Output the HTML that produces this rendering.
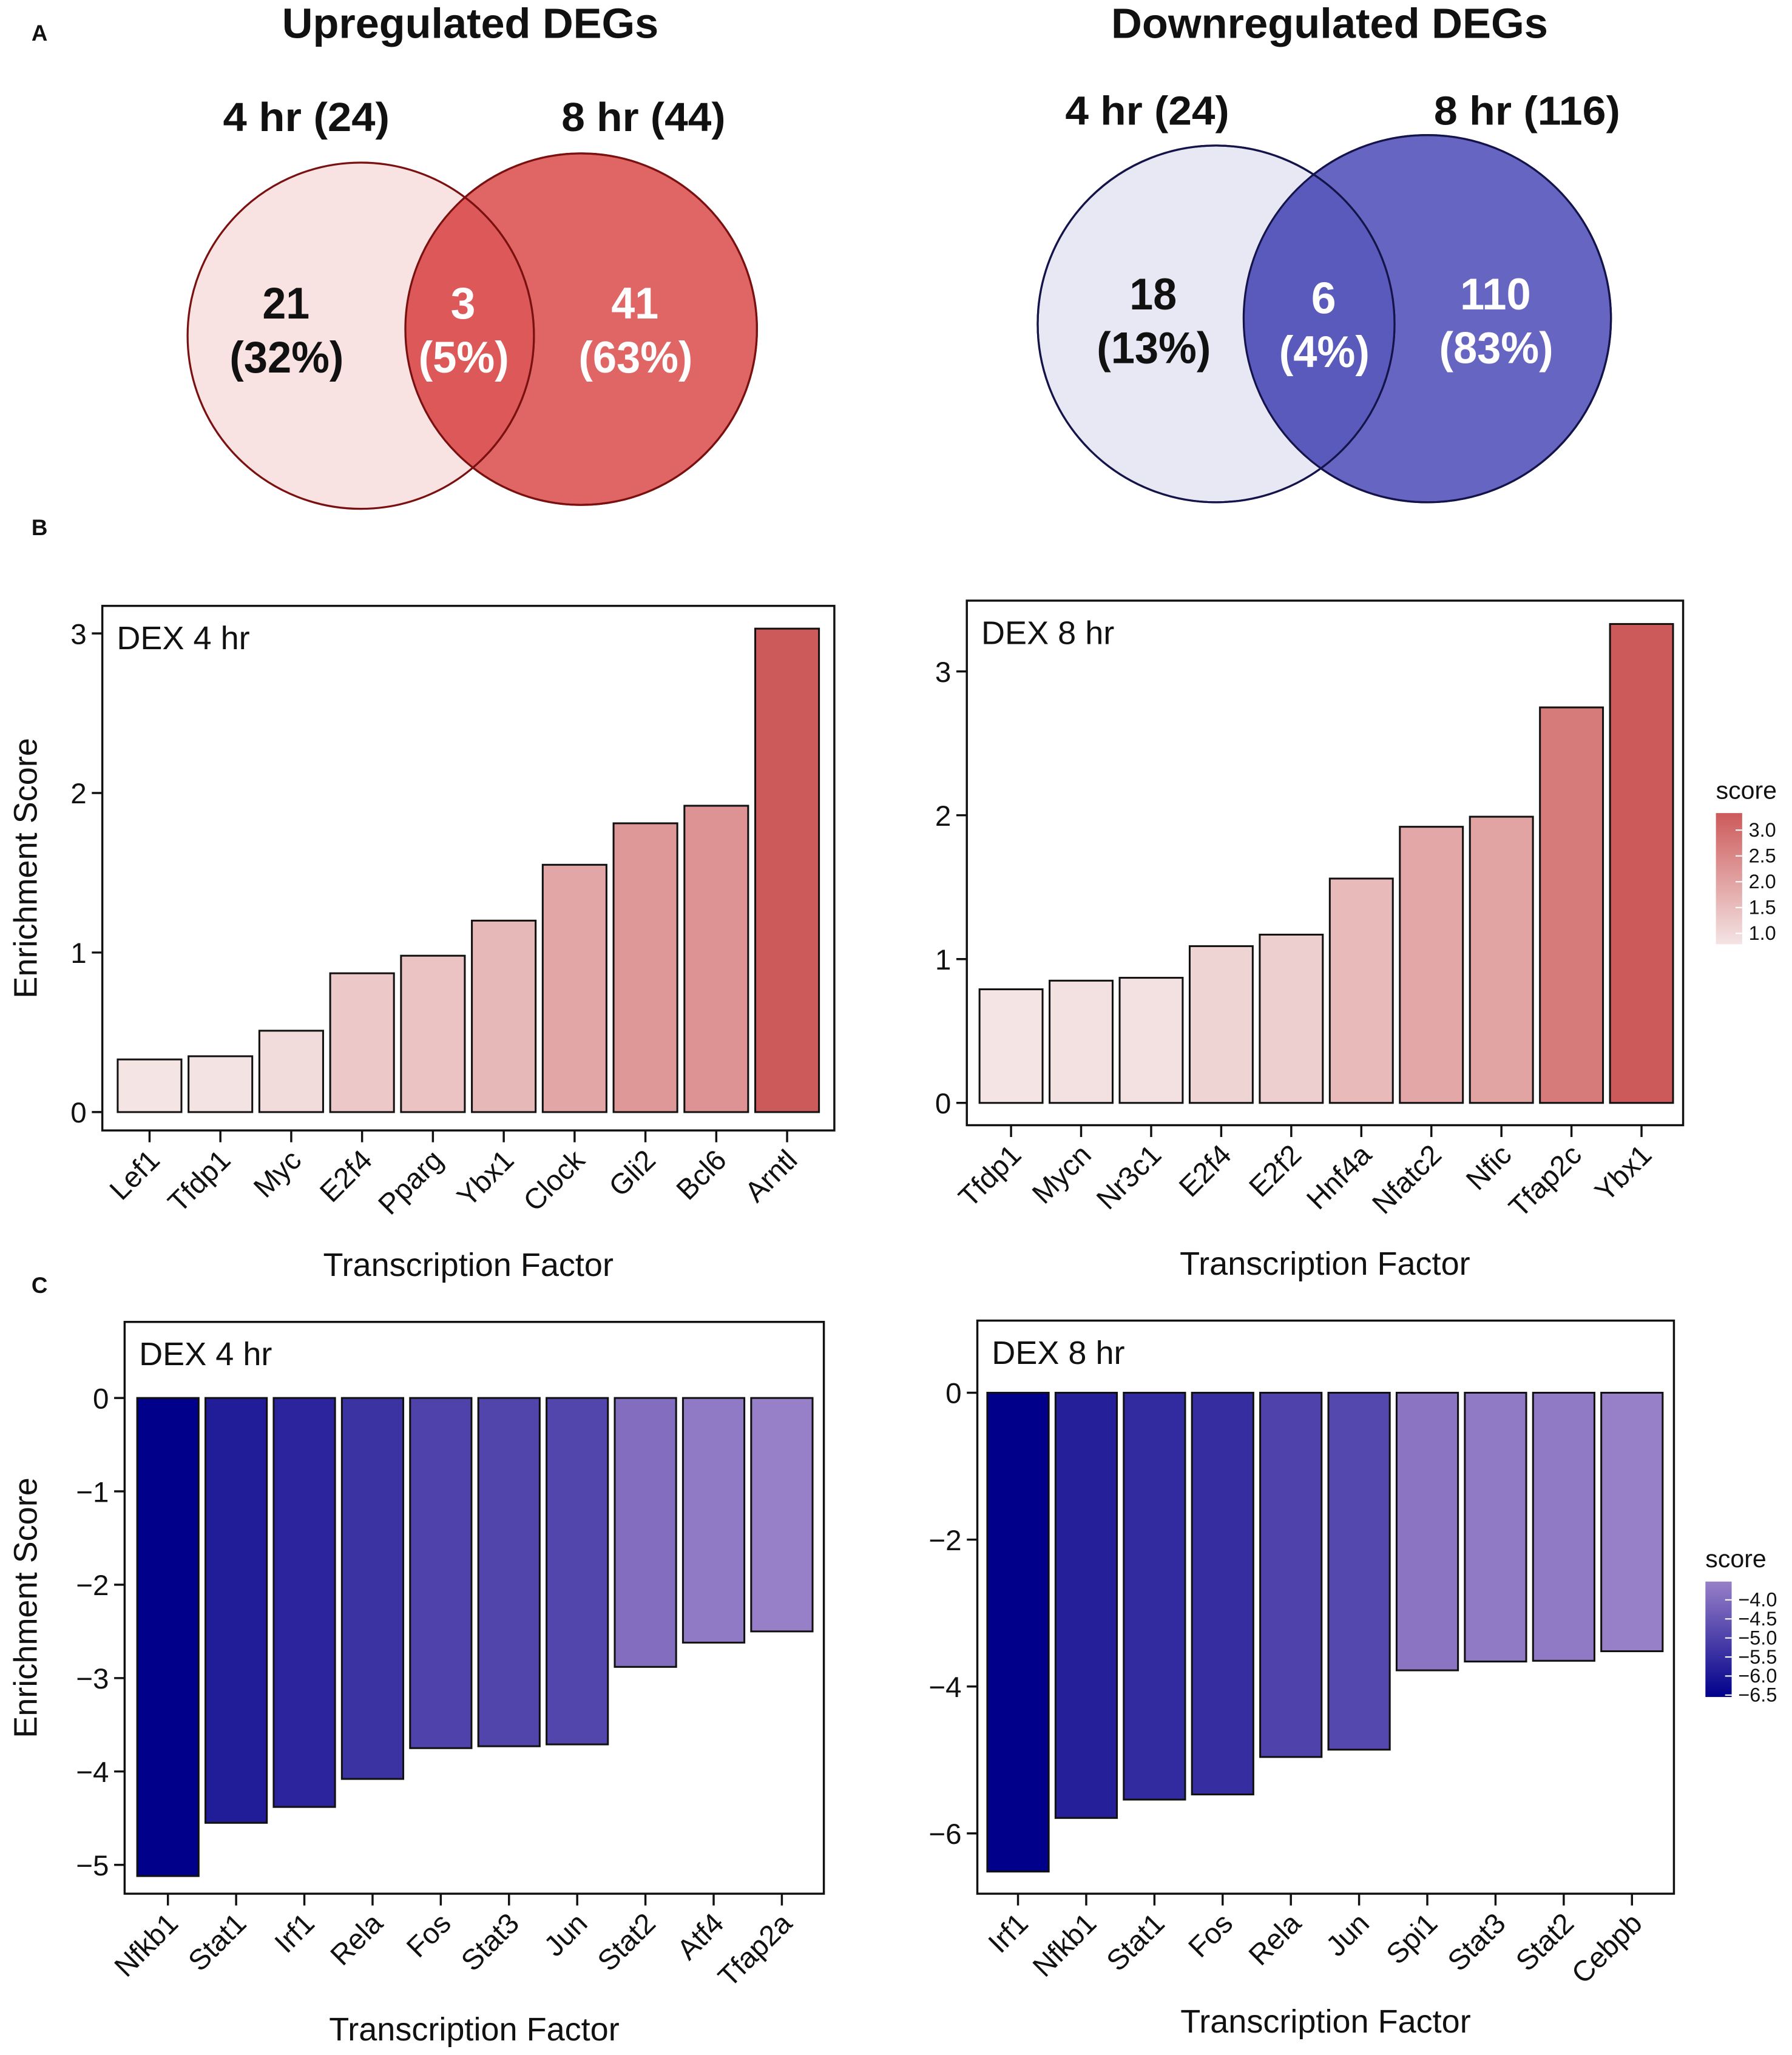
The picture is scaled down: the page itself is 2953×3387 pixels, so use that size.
<!DOCTYPE html>
<html><head><meta charset="utf-8"><style>
html,body{margin:0;padding:0;background:#fff}
svg{display:block}
text{font-family:"Liberation Sans",sans-serif;fill:#111}
.nar{font-family:"Liberation Sans Narrow","Liberation Sans",sans-serif;font-weight:bold}
</style></head><body>
<svg id="fig" width="2953" height="3387" viewBox="0 0 1366 1567" preserveAspectRatio="none" xmlns="http://www.w3.org/2000/svg">
<g>
<text x="24" y="31" font-size="17" font-weight="bold">A</text>
<text class="nar" x="215" y="29" font-size="32" textLength="287" lengthAdjust="spacingAndGlyphs">Upregulated DEGs</text>
<text class="nar" x="847" y="29" font-size="32" textLength="333" lengthAdjust="spacingAndGlyphs">Downregulated DEGs</text>
<text class="nar" x="170" y="100" font-size="31" textLength="127" lengthAdjust="spacingAndGlyphs">4 hr (24)</text>
<text class="nar" x="428" y="100" font-size="31" textLength="125" lengthAdjust="spacingAndGlyphs">8 hr (44)</text>
<circle cx="443" cy="251" r="134" fill="#e06666" stroke="#7a1010" stroke-width="1.5"/>
<circle cx="275" cy="256" r="132" fill="#f5d8d8" fill-opacity="0.75" stroke="#7a1010" stroke-width="1.5"/>
<clipPath id="cl1"><circle cx="443" cy="251" r="134"/></clipPath>
<circle cx="275" cy="256" r="132" fill="#dd5858" clip-path="url(#cl1)" stroke="#7a1010" stroke-width="1.5"/>
<circle cx="443" cy="251" r="134" fill="none" stroke="#7a1010" stroke-width="1.5"/>
<text class="nar" x="218" y="243" font-size="34" text-anchor="middle" textLength="36" lengthAdjust="spacingAndGlyphs">21</text>
<text class="nar" x="175" y="284" font-size="34" textLength="87" lengthAdjust="spacingAndGlyphs">(32%)</text>
<text class="nar" x="353" y="243" font-size="34" text-anchor="middle" style="fill:#fff">3</text>
<text class="nar" x="319" y="284" font-size="34" textLength="69" lengthAdjust="spacingAndGlyphs" style="fill:#fff">(5%)</text>
<text class="nar" x="484" y="243" font-size="34" text-anchor="middle" textLength="36" lengthAdjust="spacingAndGlyphs" style="fill:#fff">41</text>
<text class="nar" x="441" y="284" font-size="34" textLength="87" lengthAdjust="spacingAndGlyphs" style="fill:#fff">(63%)</text>
<text class="nar" x="812" y="95" font-size="31" textLength="125" lengthAdjust="spacingAndGlyphs">4 hr (24)</text>
<text class="nar" x="1093" y="95" font-size="31" textLength="142" lengthAdjust="spacingAndGlyphs">8 hr (116)</text>
<circle cx="1088" cy="243" r="140" fill="#6666c2" stroke="#14144a" stroke-width="1.5"/>
<circle cx="927" cy="247" r="136" fill="#e8e8f4" stroke="#14144a" stroke-width="1.5"/>
<clipPath id="cl2"><circle cx="1088" cy="243" r="140"/></clipPath>
<circle cx="927" cy="247" r="136" fill="#5a5abd" clip-path="url(#cl2)"/>
<circle cx="927" cy="247" r="136" fill="none" stroke="#14144a" stroke-width="1.5"/>
<circle cx="1088" cy="243" r="140" fill="none" stroke="#14144a" stroke-width="1.5"/>
<text class="nar" x="879" y="236" font-size="34" text-anchor="middle" textLength="36" lengthAdjust="spacingAndGlyphs">18</text>
<text class="nar" x="836" y="277" font-size="34" textLength="87" lengthAdjust="spacingAndGlyphs">(13%)</text>
<text class="nar" x="1009" y="239" font-size="34" text-anchor="middle" style="fill:#fff">6</text>
<text class="nar" x="975" y="280" font-size="34" textLength="69" lengthAdjust="spacingAndGlyphs" style="fill:#fff">(4%)</text>
<text class="nar" x="1140" y="236" font-size="34" text-anchor="middle" textLength="54" lengthAdjust="spacingAndGlyphs" style="fill:#fff">110</text>
<text class="nar" x="1097" y="277" font-size="34" textLength="87" lengthAdjust="spacingAndGlyphs" style="fill:#fff">(83%)</text>
</g>
<text x="24" y="408" font-size="17" font-weight="bold">B</text>
<text x="24" y="986" font-size="17" font-weight="bold">C</text>
<g id="charts"></g>
</svg>
<script>
const b4Cats=["Lef1","Tfdp1","Myc","E2f4","Pparg","Ybx1","Clock","Gli2","Bcl6","Arntl"];
const b4Vals=[0.33,0.35,0.51,0.87,0.98,1.2,1.55,1.81,1.92,3.03];
const b4Ticks=[0,1,2,3];
const b8Cats=["Tfdp1","Mycn","Nr3c1","E2f4","E2f2","Hnf4a","Nfatc2","Nfic","Tfap2c","Ybx1"];
const b8Vals=[0.79,0.85,0.87,1.09,1.17,1.56,1.92,1.99,2.75,3.33];
const b8Ticks=[0,1,2,3];
const c4Cats=["Nfkb1","Stat1","Irf1","Rela","Fos","Stat3","Jun","Stat2","Atf4","Tfap2a"];
const c4Vals=[-5.12,-4.55,-4.38,-4.08,-3.75,-3.73,-3.71,-2.88,-2.62,-2.50];
const c4Ticks=[0,-1,-2,-3,-4,-5];
const c8Cats=["Irf1","Nfkb1","Stat1","Fos","Rela","Jun","Spi1","Stat3","Stat2","Cebpb"];
const c8Vals=[-6.52,-5.79,-5.54,-5.47,-4.96,-4.86,-3.78,-3.66,-3.65,-3.52];
const c8Ticks=[0,-2,-4,-6];
const legUpTicks=[1.0,1.5,2.0,2.5,3.0];
const legDownTicks=[-4.0,-4.5,-5.0,-5.5,-6.0,-6.5];

const NS="http://www.w3.org/2000/svg";
const root=document.getElementById('charts');
function mk(tag,attrs,parent){const e=document.createElementNS(NS,tag);for(const k in attrs)e.setAttribute(k,attrs[k]);(parent||root).appendChild(e);return e;}
function mix(c1,c2,t){t=Math.max(0,Math.min(1,t));const r=c1.map((v,i)=>Math.round(v+(c2[i]-v)*t));return `rgb(${r[0]},${r[1]},${r[2]})`;}
const RED_LO=[244,228,228],RED_HI=[205,90,90],BLU_LO=[0,0,139],BLU_HI=[152,128,200];

function panel(o){
  const g=mk('g',{});
  
  
  const y=v=>o.y0+(v-o.v0)*(o.y1-o.y0)/(o.v1-o.v0);
  const n=o.cats.length, slot=(o.bx1-o.bx0)/n;
  const xc=i=>o.bx0+slot*(i+0.5);
  const vmin=Math.min(...o.vals),vmax=Math.max(...o.vals);
  o.vals.forEach((v,i)=>{
    const t=(v-vmin)/(vmax-vmin);
    const r=mk('rect',{x:xc(i)-slot*0.45,y:Math.min(y(0),y(v)),width:slot*0.9,height:Math.abs(y(v)-y(0)),fill:mix(o.lo,o.hi,t),stroke:'#111','stroke-width':1.4},g);
    
    
    mk('line',{x1:xc(i),x2:xc(i),y1:o.fy1,y2:o.fy1+9,stroke:'#111','stroke-width':1.6},g);
    const tl=mk('text',{x:0,y:0,'font-size':22,'text-anchor':'end',transform:`translate(${xc(i)+9},${o.fy1+24}) rotate(-45)`},g);
    tl.textContent=o.cats[i];
    
    
  });
  const f=mk('rect',{x:o.fx0,y:o.fy0,width:o.fx1-o.fx0,height:o.fy1-o.fy0,fill:'none',stroke:'#111','stroke-width':1.6},g);
  
  
  o.ticks.forEach(t=>{
    mk('line',{x1:o.fx0-8,x2:o.fx0,y1:y(t),y2:y(t),stroke:'#111','stroke-width':1.6},g);
    const tt=mk('text',{x:o.fx0-12,y:y(t)+8,'font-size':22,'text-anchor':'end'},g);
    tt.textContent=String(t).replace('-','\u2212');
    
    
  });
  const ti=mk('text',{x:o.fx0+11,y:o.fy0+33,'font-size':25},g);
  ti.textContent=o.title;
  
  
  const xl=mk('text',{x:(o.fx0+o.fx1)/2,y:o.xly,'font-size':25,'text-anchor':'middle'},g);
  xl.textContent='Transcription Factor';
  
  
  if(o.ylab){
    const yl=mk('text',{x:0,y:0,'font-size':25,'text-anchor':'middle',transform:`translate(28,${(o.fy0+o.fy1)/2}) rotate(-90)`},g);
    yl.textContent='Enrichment Score';
    
    
  }
}
function legend(o){
  const g=mk('g',{});
  
  
  const st=mk('text',{x:o.x,y:o.y-11,'font-size':19},g);
  st.textContent='score';
  const defs=mk('defs',{},g);
  const lg=mk('linearGradient',{id:o.name+'-g',x1:0,y1:1,x2:0,y2:0},defs);
  mk('stop',{offset:0,'stop-color':mix(o.lo,o.hi,0)},lg);
  mk('stop',{offset:1,'stop-color':mix(o.lo,o.hi,1)},lg);
  mk('rect',{x:o.x,y:o.y,width:20,height:o.h,fill:`url(#${o.name}-g)`},g);
  const ly=v=>o.y+o.h-(v-o.vlo)/(o.vhi-o.vlo)*o.h;
  o.ticks.forEach(t=>{
    mk('line',{x1:o.x+15,x2:o.x+20,y1:ly(t),y2:ly(t),stroke:'#fff'},g);
    const tx=mk('text',{x:o.x+25,y:ly(t)+5,'font-size':15},g);
    tx.textContent=t.toFixed(1).replace('-','\u2212');
    
    
  });
}
panel({name:'chart-up-4hr',cats:b4Cats,vals:b4Vals,ticks:b4Ticks,lo:RED_LO,hi:RED_HI,fx0:78,fx1:636,fy0:462,fy1:862,bx0:87,bx1:627,v0:0,y0:848,v1:3,y1:483,title:'DEX 4 hr',xly:973,ylab:true});
panel({name:'chart-up-8hr',cats:b8Cats,vals:b8Vals,ticks:b8Ticks,lo:RED_LO,hi:RED_HI,fx0:737,fx1:1283,fy0:458,fy1:858,bx0:744,bx1:1278,v0:0,y0:841,v1:3,y1:512,title:'DEX 8 hr',xly:972,ylab:false});
panel({name:'chart-down-4hr',cats:c4Cats,vals:c4Vals,ticks:c4Ticks,lo:BLU_LO,hi:BLU_HI,fx0:95,fx1:628,fy0:1008,fy1:1444,bx0:102,bx1:622,v0:0,y0:1066,v1:-5,y1:1422,title:'DEX 4 hr',xly:1556,ylab:true});
panel({name:'chart-down-8hr',cats:c8Cats,vals:c8Vals,ticks:c8Ticks,lo:BLU_LO,hi:BLU_HI,fx0:745,fx1:1276,fy0:1007,fy1:1444,bx0:750,bx1:1270,v0:0,y0:1062,v1:-6,y1:1398,title:'DEX 8 hr',xly:1550,ylab:false});
legend({name:'legend-up',x:1308,y:620,h:100,lo:RED_LO,hi:RED_HI,vlo:0.79,vhi:3.33,ticks:legUpTicks});
legend({name:'legend-down',x:1300,y:1206,h:88,lo:BLU_LO,hi:BLU_HI,vlo:-6.55,vhi:-3.52,ticks:legDownTicks});
</script>
</body></html>
